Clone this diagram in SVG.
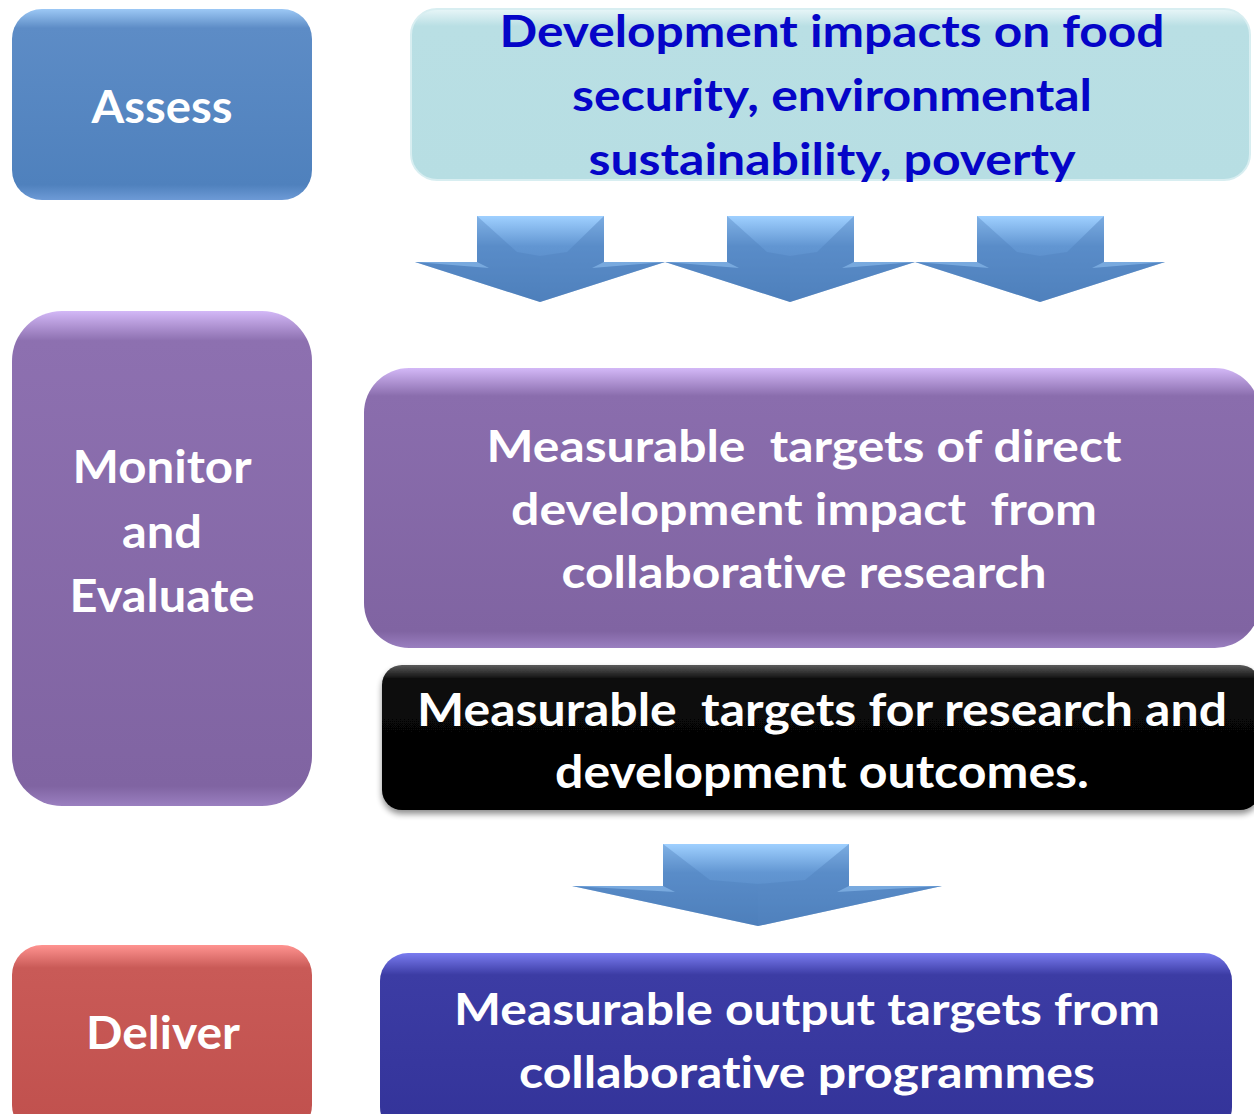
<svg xmlns="http://www.w3.org/2000/svg" width="1254" height="1114" viewBox="0 0 1254 1114">
<defs>
<linearGradient id="gBlue" x1="0" y1="0" x2="0" y2="1">
<stop offset="0" stop-color="#9cc8f5"/><stop offset="0.1" stop-color="#5d8cc6"/><stop offset="0.92" stop-color="#4f81bd"/><stop offset="1" stop-color="#6d9ad6"/>
</linearGradient>
<linearGradient id="gPurple" x1="0" y1="0" x2="0" y2="1">
<stop offset="0" stop-color="#d3b8f7"/><stop offset="0.06" stop-color="#8d70b0"/><stop offset="0.96" stop-color="#8064a2"/><stop offset="1" stop-color="#9a7fc0"/>
</linearGradient>
<linearGradient id="gPurple2" x1="0" y1="0" x2="0" y2="1">
<stop offset="0" stop-color="#d3b8f7"/><stop offset="0.1" stop-color="#8a6dad"/><stop offset="0.94" stop-color="#8064a2"/><stop offset="1" stop-color="#9a7fc0"/>
</linearGradient>
<linearGradient id="gRed" x1="0" y1="0" x2="0" y2="1">
<stop offset="0" stop-color="#ff9390"/><stop offset="0.12" stop-color="#c95a57"/><stop offset="1" stop-color="#c0504d"/>
</linearGradient>
<linearGradient id="gNavy" x1="0" y1="0" x2="0" y2="1">
<stop offset="0" stop-color="#7a7cf0"/><stop offset="0.12" stop-color="#3c3ca4"/><stop offset="1" stop-color="#333399"/>
</linearGradient>
<linearGradient id="gBlack" x1="0" y1="0" x2="0" y2="1">
<stop offset="0" stop-color="#5a5a5a"/><stop offset="0.1" stop-color="#0a0a0a"/><stop offset="1" stop-color="#000"/>
</linearGradient>
<linearGradient id="gTeal" x1="0" y1="0" x2="0" y2="1">
<stop offset="0" stop-color="#e8f6f8"/><stop offset="0.1" stop-color="#b9dfe4"/><stop offset="1" stop-color="#b7dee3"/>
</linearGradient>
<linearGradient id="gArrow" x1="0" y1="0" x2="0" y2="1">
<stop offset="0" stop-color="#9fd0ff"/><stop offset="0.35" stop-color="#6296d2"/><stop offset="1" stop-color="#4f81bd"/>
</linearGradient>
<filter id="sh" x="-5%" y="-10%" width="110%" height="125%">
<feGaussianBlur in="SourceAlpha" stdDeviation="3"/><feOffset dy="4"/><feComponentTransfer><feFuncA type="linear" slope="0.45"/></feComponentTransfer>
<feMerge><feMergeNode/><feMergeNode in="SourceGraphic"/></feMerge>
</filter>
<g id="arrow3">
<polygon points="0,0 127,0 127,46 188,46 63,86 -62,46 0,46" fill="url(#gArrow)"/>
<polygon points="0,0 40,36 63,40 63,86 -62,46 0,46" fill="#4a7bb7" opacity="0.35"/>
<polygon points="127,0 90,36 63,40 63,86 188,46 127,46" fill="#4f81bd" opacity="0.45"/>
<polygon points="-62,46 0,46 12,52" fill="#8fc0f0" opacity="0.6"/>
<polygon points="188,46 127,46 115,52" fill="#8fc0f0" opacity="0.6"/>
</g>
</defs>
<style>
.t{font-family:Lato,"Open Sans","Liberation Sans",sans-serif;font-weight:bold;text-anchor:middle;fill:#fff;font-variant-ligatures:none}
.tb{fill:#0505c8}
</style>
<rect width="1254" height="1114" fill="#fff"/>

<g id="assess">
<rect x="12" y="9" width="300" height="191" rx="30" fill="url(#gBlue)"/>
<text class="t" x="162" y="123" font-size="46" textLength="141" lengthAdjust="spacingAndGlyphs">Assess</text>
</g>

<g id="impacts">
<rect x="411" y="9" width="839" height="171" rx="26" fill="url(#gTeal)" stroke="#d8eef1" stroke-width="2"/>
<text class="t tb" x="832" y="47" font-size="44" textLength="665" lengthAdjust="spacingAndGlyphs">Development impacts on food</text>
<text class="t tb" x="832" y="111" font-size="44" textLength="520" lengthAdjust="spacingAndGlyphs">security, environmental</text>
<text class="t tb" x="832" y="175" font-size="44" textLength="487" lengthAdjust="spacingAndGlyphs">sustainability, poverty</text>
</g>

<g id="monitor">
<rect x="12" y="311" width="300" height="495" rx="50" fill="url(#gPurple)"/>
<text class="t" x="162" y="483" font-size="46" textLength="179" lengthAdjust="spacingAndGlyphs">Monitor</text>
<text class="t" x="162" y="548" font-size="46" textLength="80" lengthAdjust="spacingAndGlyphs">and</text>
<text class="t" x="162" y="612" font-size="46" textLength="185" lengthAdjust="spacingAndGlyphs">Evaluate</text>
</g>

<g id="direct-impact">
<rect x="364" y="368" width="896" height="280" rx="45" fill="url(#gPurple2)"/>
<text class="t" x="804" y="462" font-size="43" textLength="635" lengthAdjust="spacingAndGlyphs" xml:space="preserve">Measurable  targets of direct</text>
<text class="t" x="804" y="525" font-size="43" textLength="586" lengthAdjust="spacingAndGlyphs" xml:space="preserve">development impact  from</text>
<text class="t" x="804" y="588" font-size="43" textLength="485" lengthAdjust="spacingAndGlyphs">collaborative research</text>
</g>

<g id="outcomes">
<rect x="382" y="665" width="878" height="145" rx="20" fill="url(#gBlack)" filter="url(#sh)"/>
<text class="t" x="822" y="726" font-size="46" textLength="810" lengthAdjust="spacingAndGlyphs" xml:space="preserve">Measurable  targets for research and</text>
<text class="t" x="822" y="788" font-size="46" textLength="534" lengthAdjust="spacingAndGlyphs">development outcomes.</text>
</g>

<g id="deliver">
<rect x="12" y="945" width="300" height="190" rx="30" fill="url(#gRed)"/>
<text class="t" x="163" y="1049" font-size="46" textLength="154" lengthAdjust="spacingAndGlyphs">Deliver</text>
</g>

<g id="outputs">
<rect x="380" y="953" width="852" height="182" rx="28" fill="url(#gNavy)"/>
<text class="t" x="807" y="1025" font-size="43" textLength="706" lengthAdjust="spacingAndGlyphs">Measurable output targets from</text>
<text class="t" x="807" y="1088" font-size="43" textLength="576" lengthAdjust="spacingAndGlyphs">collaborative programmes</text>
</g>

<g id="connectors">
<use href="#arrow3" x="477" y="216"/>
<use href="#arrow3" x="727" y="216"/>
<use href="#arrow3" x="977" y="216"/>
<g>
<polygon points="663,844 849,844 849,886 942,886 758,926 572,886 663,886" fill="url(#gArrow)"/>
<polygon points="663,844 710,880 758,884 758,926 572,886 663,886" fill="#4a7bb7" opacity="0.35"/>
<polygon points="849,844 805,880 758,884 758,926 942,886 849,886" fill="#4f81bd" opacity="0.45"/>
<polygon points="572,886 663,886 675,892" fill="#8fc0f0" opacity="0.6"/>
<polygon points="942,886 849,886 837,892" fill="#8fc0f0" opacity="0.6"/>
</g>
</g>
</svg>
